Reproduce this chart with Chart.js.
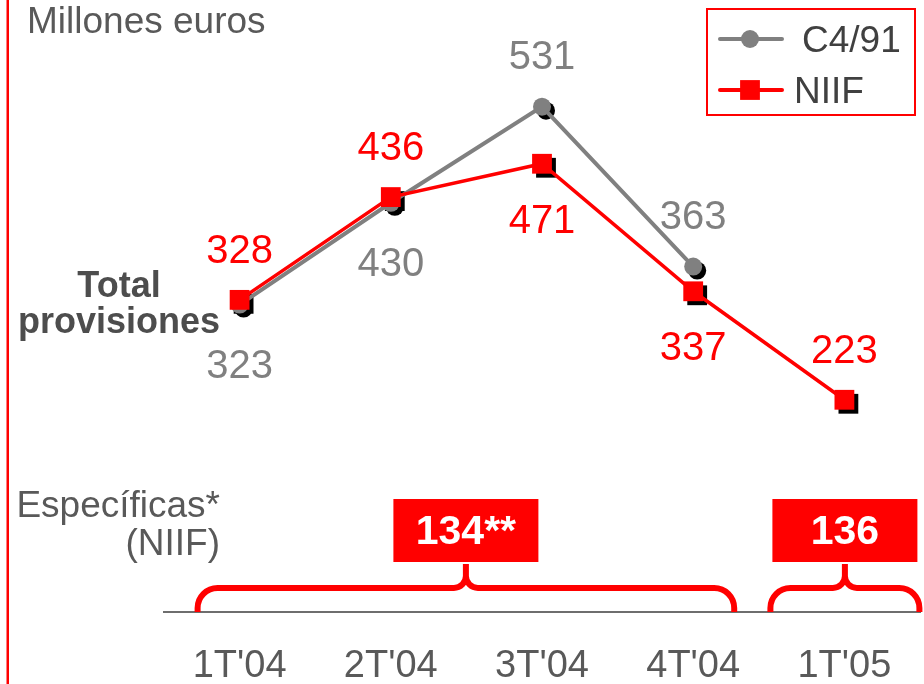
<!DOCTYPE html>
<html><head><meta charset="utf-8">
<script src="https://cdn.jsdelivr.net/npm/chart.js@4/dist/chart.umd.min.js"></script>
<style>html,body{margin:0;padding:0;background:#fff;}#wrap{width:924px;height:684px;position:relative;}</style>
</head><body><div id="wrap"><canvas id="c" width="924" height="684"></canvas></div>
<script>
// ---- data ----
const categories = ["1T'04", "2T'04", "3T'04", "4T'04", "1T'05"];
const seriesNames = ["C4/91", "NIIF"];
const c491Values = [323, 430, 531, 363, null];
const niifValues = [328, 436, 471, 337, 223];
const especificasLabels = ["134**", "136"];
const especificasGroups = [[0, 3], [4, 4]];

// ---- styles / layout ----
const FONT = "'Liberation Sans', Arial, Helvetica, sans-serif";
const RED = '#ff0000', GRAY = '#808080', TXT = '#595959', DARK = '#4d4d4d';
const SHADOW = 4;
const c491LabelPos = ['below', 'below', 'above', 'above', null];
const niifLabelPos = ['above', 'above', 'below', 'below', 'above'];
const labelOffsets = [{above: -38, below: 73}, {above: -37, below: 69}];
const braceExtend = [[42, 41], [74, 75]];

function marker(ctx, style, r, x, y, color) {
  ctx.fillStyle = color; ctx.strokeStyle = color;
  Chart.helpers.drawPoint(ctx, {pointStyle: style, radius: r, rotation: 0, borderWidth: 0}, x, y);
}

const decor = {
  id: 'decor',
  beforeDatasetsDraw(chart) {
    const ctx = chart.ctx;
    ctx.save();
    chart.data.datasets.forEach((ds, i) => {
      const meta = chart.getDatasetMeta(i);
      meta.data.forEach((pt, j) => {
        if (ds.data[j] == null) return;
        marker(ctx, ds.pointStyle, ds.pointRadius, pt.x + SHADOW, pt.y + SHADOW, '#000');
      });
    });
    ctx.restore();
  },
  afterDatasetsDraw(chart) {
    const ctx = chart.ctx;
    ctx.save();
    ctx.font = '40px ' + FONT;
    ctx.textAlign = 'center';
    ctx.textBaseline = 'alphabetic';
    const placements = [c491LabelPos, niifLabelPos];
    chart.data.datasets.forEach((ds, i) => {
      const meta = chart.getDatasetMeta(i);
      ctx.fillStyle = i === 0 ? GRAY : RED;
      meta.data.forEach((pt, j) => {
        const v = ds.data[j];
        if (v == null) return;
        const pos = placements[i][j];
        ctx.fillText(String(v), pt.x, pt.y + labelOffsets[i][pos]);
      });
    });
    ctx.restore();
  },
  afterDraw(chart) {
    const ctx = chart.ctx;
    const xs = chart.scales.x;
    ctx.save();
    // left red rule
    ctx.fillStyle = RED;
    ctx.fillRect(6.5, 0, 2.5, 684);
    // titles
    ctx.fillStyle = TXT;
    ctx.font = '37px ' + FONT;
    ctx.textAlign = 'left';
    ctx.fillText('Millones euros', 27, 33);
    ctx.textAlign = 'right';
    ctx.fillText('Específicas*', 220, 517);
    ctx.fillText('(NIIF)', 220, 555);
    ctx.fillStyle = DARK;
    ctx.font = 'bold 36px ' + FONT;
    ctx.textAlign = 'center';
    ctx.fillText('Total', 119, 297);
    ctx.fillText('provisiones', 119, 333);

    // legend
    ctx.strokeStyle = RED; ctx.lineWidth = 2;
    ctx.strokeRect(707, 9, 208, 106);
    const ds = chart.data.datasets;
    const rows = [39, 90];
    const textX = [802, 794];
    ds.forEach((d, i) => {
      ctx.strokeStyle = d.borderColor; ctx.lineWidth = 4;
      ctx.lineCap = 'round';
      ctx.beginPath(); ctx.moveTo(720, rows[i]); ctx.lineTo(782, rows[i]); ctx.stroke();
      marker(ctx, d.pointStyle, d.pointRadius, 750, rows[i], d.backgroundColor);
      ctx.fillStyle = '#404040';
      ctx.font = '37px ' + FONT;
      ctx.textAlign = 'left';
      ctx.fillText(d.label, textX[i], rows[i] + 13);
    });

    // braces and boxes
    const yb = chart.chartArea.bottom, yf = 588, yt = 564, r = 20, r2 = 12;
    especificasGroups.forEach((g, k) => {
      const L = xs.getPixelForValue(g[0]) - braceExtend[k][0];
      const R = xs.getPixelForValue(g[1]) + braceExtend[k][1];
      const M = (L + R) / 2;
      ctx.strokeStyle = RED; ctx.lineWidth = 6; ctx.lineCap = 'butt'; ctx.lineJoin = 'round';
      ctx.beginPath();
      ctx.moveTo(L, yb);
      ctx.arcTo(L, yf, L + r, yf, r);
      ctx.lineTo(M - r2, yf);
      ctx.arcTo(M, yf, M, yf - r2, r2);
      ctx.lineTo(M, yt);
      ctx.moveTo(R, yb);
      ctx.arcTo(R, yf, R - r, yf, r);
      ctx.lineTo(M + r2, yf);
      ctx.arcTo(M, yf, M, yf - r2, r2);
      ctx.lineTo(M, yt);
      ctx.stroke();
      ctx.fillStyle = RED;
      ctx.fillRect(M - 72.5, 499, 145, 63);
      ctx.fillStyle = '#fff';
      ctx.font = 'bold 41px ' + FONT;
      ctx.textAlign = 'center';
      ctx.fillText(especificasLabels[k], M, 544);
    });
    ctx.restore();
  }
};

new Chart(document.getElementById('c'), {
  type: 'line',
  data: {
    labels: categories,
    datasets: [
      {label: seriesNames[0], data: c491Values, borderColor: GRAY, backgroundColor: GRAY,
       borderWidth: 4, pointStyle: 'circle', pointRadius: 9, pointBorderWidth: 0,
       pointBackgroundColor: GRAY, tension: 0, order: 2, clip: false},
      {label: seriesNames[1], data: niifValues, borderColor: RED, backgroundColor: RED,
       borderWidth: 3.5, pointStyle: 'rect', pointRadius: 14, pointBorderWidth: 0,
       pointBackgroundColor: RED, tension: 0, order: 1, clip: false}
    ]
  },
  options: {
    responsive: false,
    animation: false,
    layout: {autoPadding: false, padding: {left: 164, right: 4, top: 41, bottom: 0}},
    plugins: {legend: {display: false}, tooltip: {enabled: false}},
    scales: {
      y: {display: false, min: 0, max: 600},
      x: {
        offset: true,
        grid: {display: false, drawTicks: false},
        border: {display: true, color: '#6e6e6e', width: 2},
        ticks: {color: TXT, font: {family: FONT, size: 38}, padding: 32, maxRotation: 0, autoSkip: false},
        afterFit(scale) { scale.height = 72; scale.paddingLeft = 0; scale.paddingRight = 0; }
      }
    }
  },
  plugins: [decor]
});
</script></body></html>
